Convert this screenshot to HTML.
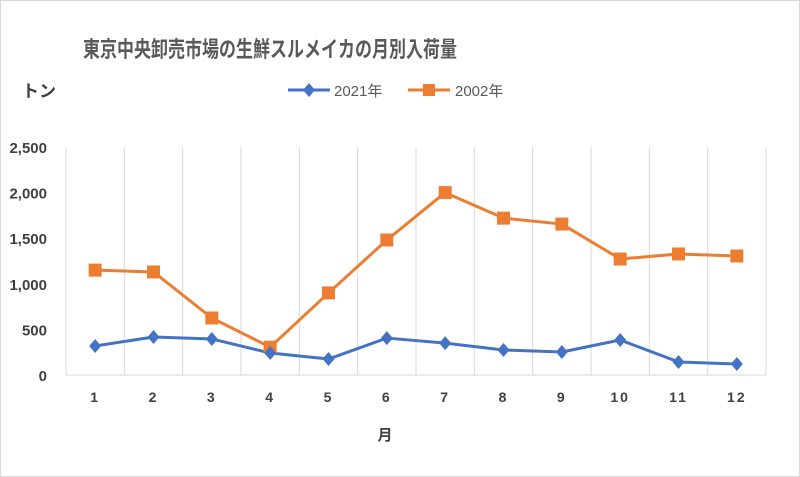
<!DOCTYPE html>
<html><head><meta charset="utf-8"><style>
html,body{margin:0;padding:0;background:#fff;}
svg{display:block;font-family:"Liberation Sans","Noto Sans CJK JP",sans-serif;}
</style></head><body>
<svg id="chart" width="800" height="477" viewBox="0 0 800 477">
<rect x="0.5" y="0.5" width="799" height="476" fill="#fff" stroke="#d9d9d9"/>
<text x="83" y="57" font-size="22" font-weight="bold" fill="#595959" textLength="374" lengthAdjust="spacingAndGlyphs" font-family="'Noto Sans CJK JP',sans-serif">東京中央卸売市場の生鮮スルメイカの月別入荷量</text>
<text x="22" y="97" font-size="17" font-weight="bold" fill="#404040" font-family="'Noto Sans CJK JP',sans-serif">トン</text>
<g>
<line x1="288" y1="90" x2="330" y2="90" stroke="#4472c4" stroke-width="3"/>
<polygon points="309,83 315,90 309,97 303,90" fill="#4472c4"/>
<text x="334" y="96" font-size="15" fill="#595959" font-family="'Liberation Sans','Noto Sans CJK JP',sans-serif">2021年</text>
</g>
<g>
<line x1="408" y1="90" x2="450" y2="90" stroke="#ed7d31" stroke-width="3"/>
<rect x="423" y="84" width="12" height="12" fill="#ed7d31"/>
<text x="455" y="96" font-size="15" fill="#595959" font-family="'Liberation Sans','Noto Sans CJK JP',sans-serif">2002年</text>
</g>
<g id="grid"></g><g id="axes"></g><g id="series"></g>
<text x="385" y="440" font-size="15" font-weight="bold" fill="#404040" text-anchor="middle" font-family="'Noto Sans CJK JP',sans-serif">月</text>
</svg>
<script>
const months = ["1","2","3","4","5","6","7","8","9","10","11","12"];
const yTicks = [0,500,1000,1500,2000,2500];
const yTickLabels = ["0","500","1,000","1,500","2,000","2,500"];
const values2021 = [318,417,395,241,175,405,350,274,252,384,143,120];
const values2002 = [1150,1130,625,305,900,1480,2000,1720,1655,1272,1327,1305];
const NS="http://www.w3.org/2000/svg";
const X0=66,X1=766,Y0=375,Y1=147,YMAX=2500;
const band=(X1-X0)/months.length;
const xs=i=>X0+band*(i+0.5);
const ys=v=>Y0-(v/YMAX)*(Y0-Y1);
function mk(tag,attrs,parent){const e=document.createElementNS(NS,tag);for(const k in attrs)e.setAttribute(k,attrs[k]);parent.appendChild(e);return e;}
const grid=document.getElementById('grid'),axes=document.getElementById('axes'),ser=document.getElementById('series');
for(let i=0;i<=months.length;i++){
  const x=X0+band*i;
  const l=mk('line',{x1:x,x2:x,y1:Y1,y2:Y0,stroke:'#d9d9d9','stroke-width':1},grid);
  
  
}
const ax=mk('line',{x1:X0,x2:X1,y1:Y0,y2:Y0,stroke:'#d9d9d9','stroke-width':1},axes);


yTicks.forEach((v,i)=>{
  const t=mk('text',{x:47,y:ys(v)+6,'font-size':15,'font-weight':'bold',fill:'#404040','text-anchor':'end'},axes);
  t.textContent=yTickLabels[i];
  
  
});
months.forEach((m,i)=>{
  const t=mk('text',{x:xs(i),y:402,'font-size':14,'font-weight':'bold',fill:'#404040','text-anchor':'middle','letter-spacing':'2'},axes);
  t.textContent=m;
  
  
});
function line(vals,color,name){
  const p=mk('polyline',{points:vals.map((v,i)=>xs(i)+','+ys(v)).join(' '),fill:'none',stroke:color,'stroke-width':3,'stroke-linejoin':'round'},ser);
  
  
}
line(values2002,'#ed7d31','series-2002');
line(values2021,'#4472c4','series-2021');
values2002.forEach((v,i)=>{
  const r=mk('rect',{x:xs(i)-6.5,y:ys(v)-6.5,width:13,height:13,fill:'#ed7d31'},ser);
  
  
});
values2021.forEach((v,i)=>{
  const x=xs(i),y=ys(v);
  const d=mk('polygon',{points:`${x},${y-7} ${x+6},${y} ${x},${y+7} ${x-6},${y}`,fill:'#4472c4'},ser);
  
  
});
</script>
</body></html>
